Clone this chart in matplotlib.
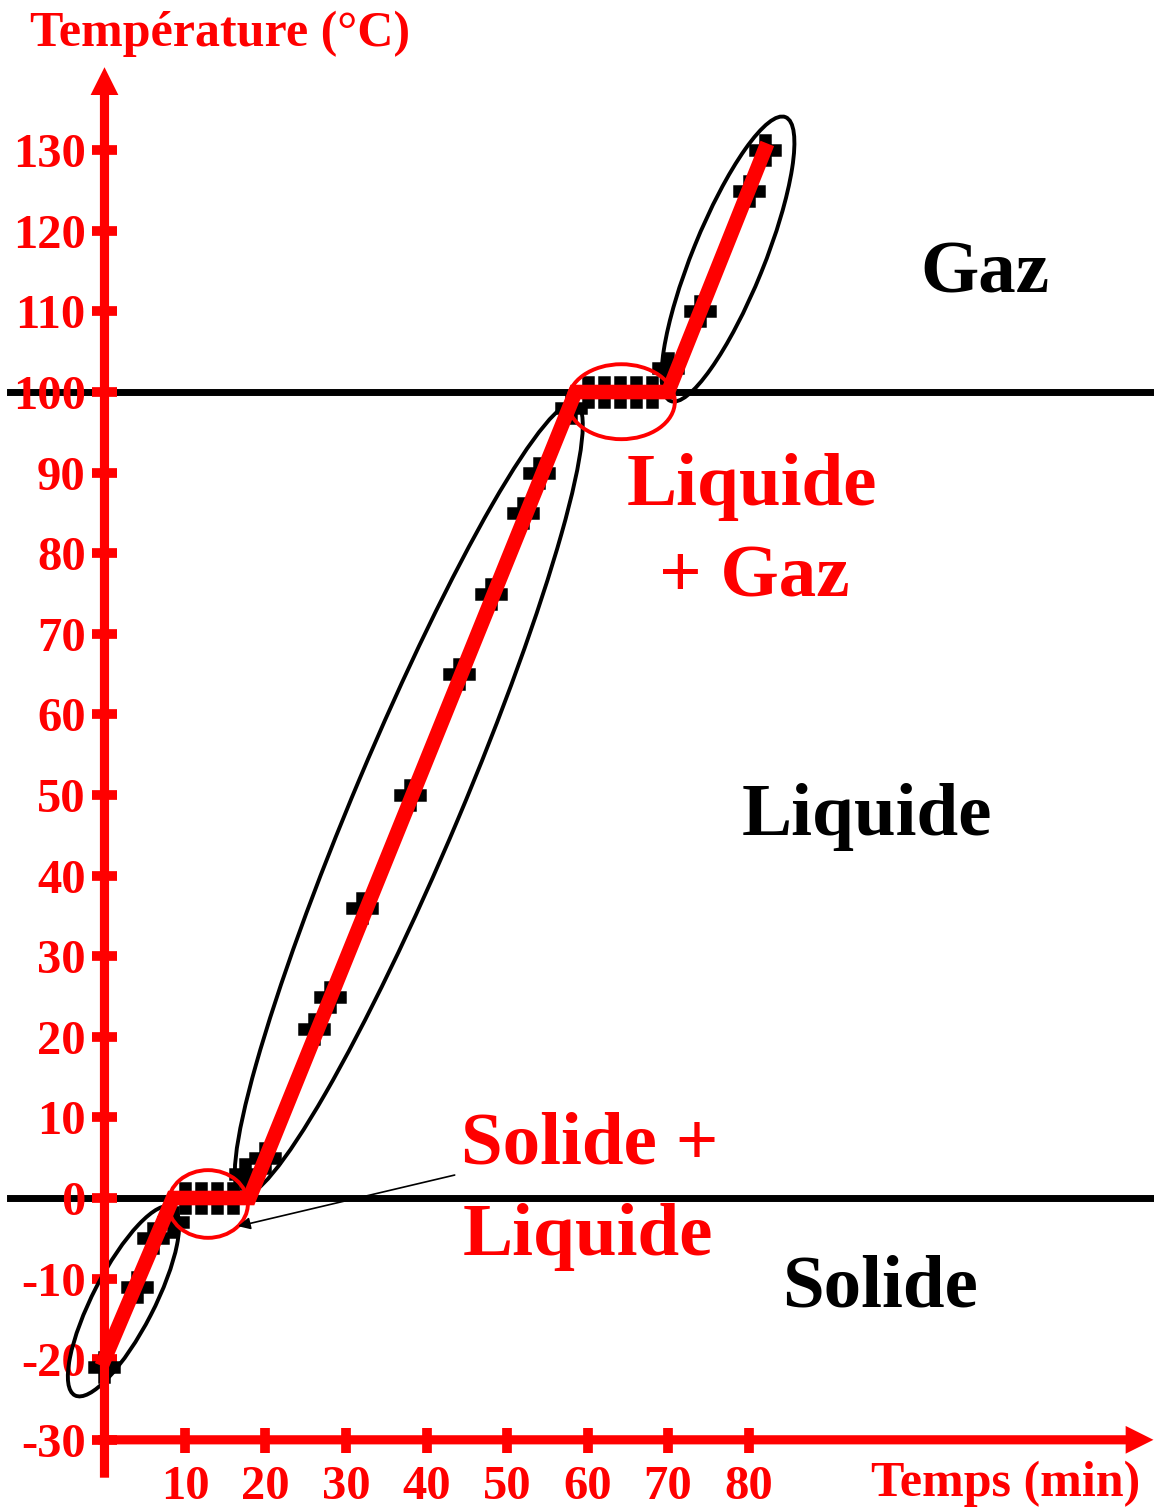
import matplotlib
matplotlib.use('Agg')
import matplotlib.pyplot as plt
from matplotlib.patches import Ellipse

plt.rcParams['font.family'] = ['Liberation Serif', 'DejaVu Serif']
plt.rcParams['font.weight'] = 'bold'
plt.rcParams['axes.unicode_minus'] = False

# ---- data ----
# measured points (black crosses)
temps_min = [0, 4, 6, 8.5, 10, 12, 14, 16, 17.5, 20, 26, 28, 32, 38, 44, 48,
             52, 54, 58, 60, 62, 64, 66, 68, 70, 74, 80, 82]
temps_c = [-21, -11, -5, -3, 0, 0, 0, 0, 3, 5, 21, 25, 36, 50, 65, 75,
           85, 90, 98, 100, 100, 100, 100, 100, 103, 110, 125, 130]

# fitted broken line (red)
fit_min = [0, 8.5, 18, 58.5, 70, 82]
fit_c = [-20, 0, 0, 100, 100, 130]

# phase change temperatures
fusion_c = 0
ebullition_c = 100

x_ticks = [10, 20, 30, 40, 50, 60, 70, 80]
x_labels = [str(v) for v in x_ticks]
y_ticks = list(range(-30, 131, 10))
y_labels = [str(v) for v in y_ticks]

RED = '#ff0000'

fig = plt.figure(figsize=(11.54, 15.08), dpi=100)
ax = fig.add_axes([0, 0, 1, 1])
ax.set_xlim(-12.98, 130.37)
ax.set_ylim(-38.46, 148.64)

# horizontal phase lines
ax.axhline(fusion_c, color='black', lw=5, zorder=1, xmin=0.009)
ax.axhline(ebullition_c, color='black', lw=5, zorder=1, xmin=0.009)

# groups of points (black ellipses)
for c, w, h, ang in [((2.36, -12.8), 26.3, 7.6, 62.7),
                     ((37.8, 49.5), 106.6, 13.2, 67.1),
                     ((77.45, 116.5), 38.0, 8.9, 67.9)]:
    ax.add_patch(Ellipse(c, w, h, angle=ang, fill=False, ec='black', lw=2.8, zorder=2))

ax.plot(temps_min, temps_c, linestyle='none', marker='P', ms=21, color='black',
        markeredgewidth=1.8, markeredgecolor='black', zorder=3)
ax.plot(fit_min, fit_c, color=RED, lw=10.5, zorder=4, solid_joinstyle='miter')

# plateaus (red ellipses)
ax.add_patch(Ellipse((12.86, -0.74), 9.9, 8.4, fill=False, ec=RED, lw=2.8, zorder=5))
ax.add_patch(Ellipse((64.2, 98.8), 13.3, 9.3, fill=False, ec=RED, lw=2.8, zorder=5))

# axes with arrows
for s in ax.spines.values():
    s.set_visible(False)
ax.spines['left'].set_position(('data', 0))
ax.spines['bottom'].set_position(('data', -30))
arrow = dict(arrowstyle='simple,head_length=1.0,head_width=1.0,tail_width=0.33',
             mutation_scale=20, fc=RED, ec='none', shrinkA=0, shrinkB=0)
ax.annotate('', xy=(0, 140.3), xytext=(0, -34.7), arrowprops=arrow, zorder=6)
ax.annotate('', xy=(130.3, -30), xytext=(-0.8, -30), arrowprops=arrow, zorder=6)

ax.set_xticks(x_ticks)
ax.set_xticklabels(x_labels)
ax.set_yticks(y_ticks)
ax.set_yticklabels(y_labels)
ax.tick_params(axis='both', direction='inout', length=18, width=7, colors=RED,
               labelsize=35)
ax.tick_params(axis='x', pad=9)
ax.tick_params(axis='y', pad=4.5)

ax.text(-9.25, 142.9, 'Température (°C)', color=RED, fontsize=36, ha='left', va='baseline')
ax.text(128.6, -37.0, 'Temps (min)', color=RED, fontsize=36, ha='right', va='baseline')

# phase names
ax.text(109.4, 112.4, 'Gaz', fontsize=54, ha='center', va='baseline', color='black')
ax.text(94.7, 45.0, 'Liquide', fontsize=54, ha='center', va='baseline', color='black')
ax.text(96.3, -13.5, 'Solide', fontsize=54, ha='center', va='baseline', color='black')
ax.text(80.4, 86.0, 'Liquide', fontsize=54, ha='center', va='baseline', color=RED)
ax.text(80.7, 74.6, '+ Gaz', fontsize=54, ha='center', va='baseline', color=RED)
ax.text(60.3, 4.3, 'Solide +', fontsize=54, ha='center', va='baseline', color=RED)
ax.text(60.1, -7.1, 'Liquide', fontsize=54, ha='center', va='baseline', color=RED)
ax.annotate('', xy=(16.6, -3.5), xytext=(43.5, 2.85),
            arrowprops=dict(arrowstyle='-|>', lw=1.2, color='black',
                            mutation_scale=18, shrinkA=0, shrinkB=0), zorder=6)

fig.savefig('out.png', dpi=100)
